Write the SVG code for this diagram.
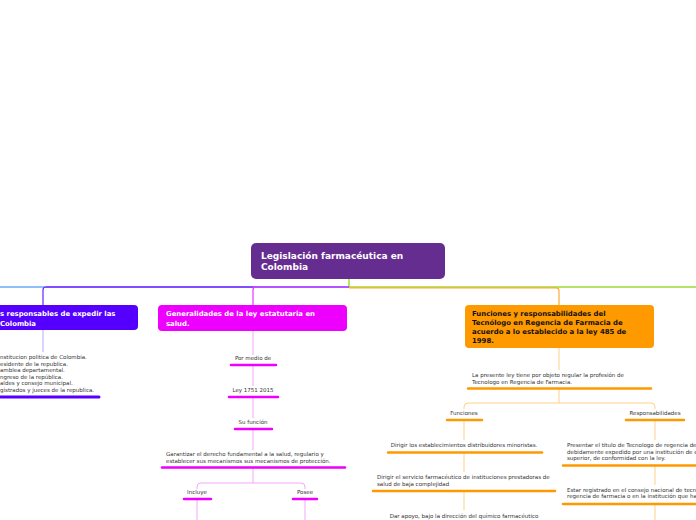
<svg xmlns="http://www.w3.org/2000/svg" width="696" height="520" viewBox="0 0 696 520">
<style>
text{font-family:"DejaVu Sans",Verdana,sans-serif}
.ttl{font-weight:bold;fill:#fff;font-size:9px}
.sub{font-weight:bold;fill:#fff;font-size:6.9px}
.subk{font-weight:bold;fill:#111;font-size:6.9px}
.t{fill:#333;font-size:5.5px}
.c{text-anchor:middle}
.lp{fill:none;stroke:#b9a6ff;stroke-width:1}
.mp{fill:none;stroke:#f5a6fb;stroke-width:1}
.op{fill:none;stroke:#ffd08a;stroke-width:1}
.ub{stroke:#5500ff;stroke-width:3;stroke-linecap:round}
.um{stroke:#ee00ff;stroke-width:2.5;stroke-linecap:round}
.uo{stroke:#ff9900;stroke-width:2.5;stroke-linecap:round}
</style>
<rect width="696" height="520" fill="#fff"/>
<g id="connectors">
<path d="M349 279 V287" stroke="#99dd33" stroke-width="1.5" fill="none"/>
<path d="M349 287 H696" stroke="#99dd33" stroke-width="1.5" fill="none"/>
<path d="M349 287 H253" stroke="#9a1cff" stroke-width="1.5" fill="none"/>
<path d="M253 287 H46" stroke="#5a10ff" stroke-width="1.5" fill="none"/>
<path d="M46 287 H0" stroke="#6aaaf5" stroke-width="1.5" fill="none"/>
<path d="M46 287 Q43 287 43 290 V305" stroke="#6a22ff" stroke-width="1.2" fill="none"/>
<path d="M256 287 Q253 287 253 290 V305" stroke="#ee33ff" stroke-width="1.2" fill="none"/>
<path d="M349 287.8 H556 Q559 287.8 559 291 V305" stroke="#ffaa33" stroke-width="1.2" fill="none"/>
<path class="lp" d="M43 330 V352"/>
<path class="mp" d="M253 331 V355 M253 365 V386 M253 397 V418 M253 429 V450 M253 467 V483"/>
<path class="mp" d="M201 483 H301 M201 483 Q197 483 197 487 V489 M301 483 Q305 483 305 487 V489"/>
<path class="mp" d="M197 499 V520 M305 499 V520"/>
<path class="op" d="M559 348 V370 M559 388 V403 M468 403 H651 M468 403 Q464 403 464 407 V409 M651 403 Q655 403 655 407 V409"/>
<path class="op" d="M464 420 V440 M464 452 V472 M464 491 V510"/>
<path class="op" d="M655 420 V440 M655 466 V485 M655 504 V520"/>
</g>
<g id="main">
<rect x="251" y="243" width="194" height="36" rx="5" fill="#662d91"/>
<text class="ttl" x="261" y="259">Legislación farmacéutica en</text>
<text class="ttl" x="261" y="270">Colombia</text>
</g>
<g id="left">
<rect x="-10" y="305" width="148" height="25" rx="4" fill="#5500ff"/>
<text class="sub" x="0" y="316">s responsables de expedir las</text>
<text class="sub" x="0" y="326">Colombia</text>
</g>
<g id="left-list">
<text class="t" x="0" y="359">nstitucion politica de Colombia.</text>
<text class="t" x="0" y="365.5">esidente de la republica.</text>
<text class="t" x="0" y="372">amblea departamental.</text>
<text class="t" x="0" y="378.5">ngreso de la república.</text>
<text class="t" x="0" y="385">aldes y consejo municipal.</text>
<text class="t" x="0" y="391.5">gistrados y jueces de la republica.</text>
<line class="ub" x1="0" y1="397" x2="99" y2="397"/>
</g>
<g id="middle">
<rect x="158" y="305" width="189" height="26" rx="4" fill="#ee00ff"/>
<text class="sub" x="166" y="316">Generalidades de la ley estatutaria en</text>
<text class="sub" x="166" y="325.5">salud.</text>
</g>
<g id="por-medio"><text class="t c" x="253" y="360">Por medio de</text><line class="um" x1="231" y1="365" x2="276" y2="365"/></g>
<g id="ley1751"><text class="t c" x="253" y="392">Ley 1751 2015</text><line class="um" x1="229" y1="397" x2="278" y2="397"/></g>
<g id="su-funcion"><text class="t c" x="253" y="424">Su función</text><line class="um" x1="235" y1="429" x2="272" y2="429"/></g>
<g id="garantizar">
<text class="t" x="166" y="456">Garantizar el derecho fundamental a la salud, regulario y</text>
<text class="t" x="166" y="462.5">establecer sus mecanismos sus mecanismos de protección.</text>
<line class="um" x1="162" y1="467.5" x2="345" y2="467.5"/>
</g>
<g id="incluye"><text class="t c" x="197" y="494">Incluye</text><line class="um" x1="184" y1="499" x2="211" y2="499"/></g>
<g id="posee"><text class="t c" x="305" y="494">Posee</text><line class="um" x1="293" y1="499" x2="317" y2="499"/></g>
<g id="right">
<rect x="465" y="305" width="189" height="43" rx="4" fill="#ff9900"/>
<text class="subk" x="472" y="316">Funciones y responsabilidades del</text>
<text class="subk" x="472" y="325">Tecnólogo en Regencia de Farmacia de</text>
<text class="subk" x="472" y="334">acuerdo a lo establecido a la ley 485 de</text>
<text class="subk" x="472" y="343">1998.</text>
</g>
<g id="presente">
<text class="t" x="472" y="377">La presente ley tiene por objeto regular la profesión de</text>
<text class="t" x="472" y="383.5">Tecnologo en Regencia de Farmacia.</text>
<line class="uo" x1="468" y1="388.5" x2="651" y2="388.5"/>
</g>
<g id="funciones"><text class="t c" x="464" y="415">Funciones</text><line class="uo" x1="447" y1="420" x2="482" y2="420"/></g>
<g id="responsabilidades"><text class="t c" x="655" y="415">Responsabilidades</text><line class="uo" x1="626" y1="420" x2="684" y2="420"/></g>
<g id="f1"><text class="t c" x="464" y="447">Dirigir los establecimientos distribuidores minoristas.</text><line class="uo" x1="388" y1="452.5" x2="542" y2="452.5"/></g>
<g id="f2">
<text class="t" x="377" y="479">Dirigir el servicio farmacéutico de instituciones prestadoras de</text>
<text class="t" x="377" y="485.5">salud de baja complejidad</text>
<line class="uo" x1="373" y1="491" x2="555" y2="491"/>
</g>
<g id="f3"><text class="t c" x="464" y="518">Dar apoyo, bajo la dirección del químico farmacéutico</text></g>
<g id="r1">
<text class="t" x="567" y="447">Presentar el titulo de Tecnologo de regencia de</text>
<text class="t" x="567" y="453.5">debidamente expedido por una institución de e</text>
<text class="t" x="567" y="460">superior, de conformidad con la ley.</text>
<line class="uo" x1="563" y1="465.5" x2="700" y2="465.5"/>
</g>
<g id="r2">
<text class="t" x="567" y="491.5">Estar registrado en el consejo nacional de tecn</text>
<text class="t" x="567" y="498">regencia de farmacia o en la institución que ha</text>
<line class="uo" x1="563" y1="504" x2="700" y2="504"/>
</g>
</svg>
